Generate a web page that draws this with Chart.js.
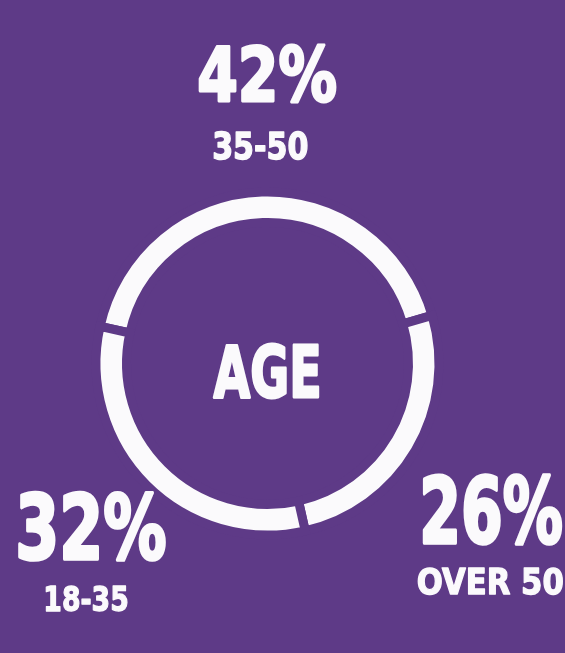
<!DOCTYPE html>
<html>
<head>
<meta charset="utf-8">
<script src="https://cdn.jsdelivr.net/npm/chart.js@4/dist/chart.umd.min.js"></script>
<style>
  html, body { margin: 0; padding: 0; background: #5e3a87; }
  #wrap { width: 565px; height: 653px; }
</style>
</head>
<body>
<div id="wrap"><canvas id="ageChart"></canvas></div>
<script>
// Daten: Altersgruppen und Anteile (im Uhrzeigersinn ab oben links)
const ageGroups = ["35-50", "OVER 50", "18-35"];
const ageShares = [42, 26, 32];
const centerLabel = "AGE";

const purple = "#5e3a87";
const white = "#fbfafc";
const FONT = '"DejaVu Sans", Roboto, "Liberation Sans", sans-serif';

// Textkästen (links, oben, rechts, unten) für Prozent und Gruppenname
const labelBoxes = [
  { pct: [198, 43, 337, 102], name: [213, 130, 308, 160] },
  { pct: [422, 473, 563, 545], name: [417, 567, 563, 595] },
  { pct: [17, 491, 167, 561], name: [45, 585, 128, 612] },
];
const centerBox = [212, 342, 320, 398];

// Text so zeichnen, dass er genau in den Kasten passt (schmale, fette Schrift nachbilden)
function drawFitted(ctx, text, box) {
  const h = box[3] - box[1];
  const lw = h * 0.05; // zusätzliche Strichstärke
  ctx.font = "bold 100px " + FONT;
  const m = ctx.measureText(text);
  const size = (100 * (h - lw)) / m.actualBoundingBoxAscent;
  ctx.font = "bold " + size + "px " + FONT;
  const m2 = ctx.measureText(text);
  const inkW = m2.actualBoundingBoxLeft + m2.actualBoundingBoxRight;
  const sx = (box[2] - box[0] - lw) / inkW;
  ctx.save();
  ctx.translate(box[0] + lw / 2, box[3] - lw / 2);
  ctx.scale(sx, 1);
  ctx.textAlign = "left";
  ctx.textBaseline = "alphabetic";
  ctx.fillStyle = white;
  ctx.strokeStyle = white;
  ctx.lineWidth = lw;
  ctx.lineJoin = "round";
  ctx.fillText(text, m2.actualBoundingBoxLeft, 0);
  ctx.strokeText(text, m2.actualBoundingBoxLeft, 0);
  ctx.restore();
}

const labelPlugin = {
  id: "ageLabels",
  afterDraw(chart) {
    const ctx = chart.ctx;
    const values = chart.data.datasets[0].data;
    chart.data.labels.forEach((label, i) => {
      drawFitted(ctx, values[i] + "%", labelBoxes[i].pct);
      drawFitted(ctx, label, labelBoxes[i].name);
    });
    drawFitted(ctx, centerLabel, centerBox);
  },
};

const config = {
  type: "doughnut",
  data: {
    labels: ageGroups,
    datasets: [
      {
        data: ageShares,
        backgroundColor: white,
        borderColor: purple,
        borderWidth: 9,
        borderJoinStyle: "miter",
        hoverOffset: 0,
      },
    ],
  },
  options: {
    responsive: true,
    maintainAspectRatio: false,
    animation: false,
    rotation: -77.5,
    radius: 171.5,
    cutout: "82.2%",
    layout: {
      padding: { left: 0, right: 30, top: 74, bottom: 0 },
    },
    plugins: {
      legend: { display: false },
      tooltip: { enabled: false },
    },
    events: [],
  },
  plugins: [labelPlugin],
};

const ctx = document.getElementById("ageChart").getContext("2d");
const myChart = new Chart(ctx, config);
</script>
</body>
</html>
